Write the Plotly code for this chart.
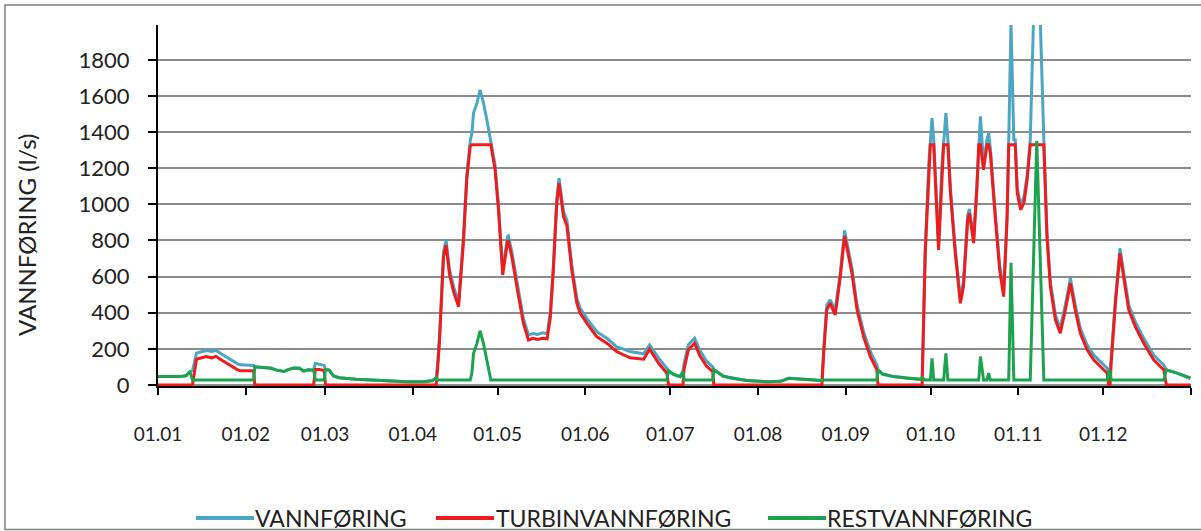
import pandas as pd
import plotly.graph_objects as go

# Day of year (0 = 1 January), values in l/s
days = [0, 4, 8, 10, 11.3, 12.2, 13.6, 15, 17, 19, 20.5, 22, 24, 26, 28, 29, 33.8, 34.2,
        37, 40, 42, 44.5, 46, 48, 50, 51.5, 53, 55, 55.6, 57, 58.7, 59.2, 60.5, 62, 64, 70,
        76, 82, 88, 94, 97, 98.3, 98.8, 99.5, 100.9, 101.8, 103, 104.5, 106.2, 107.9, 109.1,
        110.3, 110.9, 111.5, 112.7, 113.8, 115.0, 116.2, 117.6, 119.1, 120.3, 121.8, 123.5,
        123.8, 125.0, 127.4, 129.1, 130.9, 132.5, 134, 136, 137.5, 138.6, 139.7, 140.9, 141.7,
        143.3, 144.5, 146.2, 148, 149.2, 151.5, 155, 158.6, 162, 166.8, 171.6, 173.7, 176.9,
        179.8, 180.4, 182, 184.5, 185.5, 185.9, 187.4, 189.6, 191.5, 193.9, 196, 196.4, 199.8,
        203.4, 208, 215, 220, 222.8, 227, 231.6, 234.6, 235.2, 236.3, 237.5, 239.3, 241.1,
        242.6, 245.2, 247, 249.3, 251.7, 254, 254.4, 256, 259.9, 264.6, 269.3, 270.0, 271.1,
        272.3, 272.9, 273.5, 274.1, 275.8, 277.0, 277.6, 278.4, 279.1, 280.0, 281.7, 283.5,
        284.6, 286.1, 286.7, 288.2, 289.4, 290.0, 290.6, 291.7, 292.9, 293.5, 294.1, 295.9,
        297.4, 298.8, 300.0, 300.6, 301.4, 302.4, 302.9, 303.6, 304.8, 306.0, 307.1, 308.2,
        310.5, 313.0, 314.1, 315.3, 317.1, 318.8, 320.6, 322.4, 324.1, 325.9, 328.3, 330.6,
        333.6, 335.4, 335.9, 336.4, 336.8, 338.3, 339.9, 341.8, 343, 345.3, 348.3, 351.8,
        355.4, 356.3, 360.1, 364.8]

vannforing = [46, 44, 46, 52, 74, 80, 176, 182, 190, 185, 192, 175, 155, 135, 118, 111, 108, 100,
              95, 92, 82, 74, 85, 94, 92, 76, 84, 82, 120, 115, 108, 85, 82, 50, 40, 32,
              26, 20, 18, 18, 24, 40, 120, 280, 740, 800, 640, 540, 460, 812, 1163,
              1350, 1394, 1505, 1560, 1634, 1560, 1468, 1357, 1218, 997, 636, 822,
              825, 738, 516, 369, 277, 285, 280, 288, 282, 400, 664, 1033, 1145,
              960, 910, 664, 479, 424, 369, 295, 258, 212, 185, 172, 222, 148,
              92, 78, 60, 46, 74, 120, 222, 259, 190, 130, 100, 85, 48,
              36, 24, 18, 20, 37, 32, 25, 24, 200, 442, 471, 415, 627,
              855, 646, 443, 295, 184, 110, 83, 60, 46, 37, 31, 40, 756,
              1218, 1357, 1477, 1357, 775, 1218, 1357, 1505, 1357, 1089, 756, 479,
              572, 941, 975, 812, 1126, 1357, 1487, 1218, 1357, 1395, 1311, 941,
              664, 516, 941, 1357, 2006, 1357, 1357, 1089, 997, 1043, 1163, 1357,
              2680, 1357, 849, 572, 387, 313, 442, 591, 442, 313, 221, 166,
              119, 92, 74, 80, 150, 479, 757, 572, 442, 350, 258, 166,
              110, 83, 65, 37]

turbinvannforing = [0, 0, 0, 0, 0, 0, 142, 150, 157, 150, 158, 142, 122, 102, 85, 78, 78, 0,
                    0, 0, 0, 0, 0, 0, 0, 0, 0, 0, 85, 85, 80, 0, 0, 0, 0, 0,
                    0, 0, 0, 0, 0, 0, 90, 250, 711, 775, 612, 512, 434, 785, 1136,
                    1320, 1330, 1330, 1330, 1330, 1330, 1330, 1330, 1191, 970, 609, 794,
                    795, 711, 489, 342, 249, 258, 252, 258, 255, 370, 637, 1006, 1117,
                    932, 880, 637, 452, 397, 342, 268, 231, 185, 150, 142, 198, 120,
                    65, 0, 0, 0, 0, 90, 194, 231, 160, 102, 74, 0, 0,
                    0, 0, 0, 0, 0, 0, 0, 0, 170, 415, 452, 388, 600,
                    825, 619, 416, 268, 157, 83, 0, 0, 0, 0, 0, 0, 729,
                    1191, 1330, 1330, 1330, 748, 1191, 1330, 1330, 1330, 1062, 729, 452,
                    545, 914, 951, 785, 1099, 1330, 1330, 1191, 1330, 1330, 1284, 914,
                    637, 489, 914, 1330, 1330, 1330, 1330, 1062, 970, 1010, 1136, 1330,
                    1330, 1330, 822, 545, 360, 286, 415, 563, 415, 286, 194, 139,
                    92, 65, 0, 0, 120, 452, 729, 545, 415, 323, 231, 139,
                    83, 0, 0, 0]

restvannforing = [46, 44, 46, 52, 74, 27, 27, 27, 27, 27, 27, 27, 27, 27, 27, 27, 27, 100,
                  95, 92, 82, 74, 85, 94, 92, 76, 84, 82, 27, 27, 27, 85, 82, 50, 40, 32,
                  26, 20, 18, 18, 24, 40, 27, 27, 27, 27, 27, 27, 27, 27, 27,
                  27, 64, 175, 230, 300, 230, 138, 27, 27, 27, 27, 27,
                  27, 27, 27, 27, 27, 27, 27, 27, 27, 27, 27, 27, 27,
                  27, 27, 27, 27, 27, 27, 27, 27, 27, 27, 27, 27, 27,
                  27, 78, 60, 46, 74, 27, 27, 27, 27, 27, 27, 85, 48,
                  36, 24, 18, 20, 37, 32, 25, 24, 27, 27, 27, 27, 27,
                  27, 27, 27, 27, 27, 27, 83, 60, 46, 37, 31, 40, 27,
                  27, 27, 147, 27, 27, 27, 27, 175, 27, 27, 27, 27,
                  27, 27, 27, 27, 27, 27, 157, 27, 27, 65, 27, 27,
                  27, 27, 27, 27, 676, 27, 27, 27, 27, 27, 27, 27,
                  1350, 27, 27, 27, 27, 27, 27, 27, 27, 27, 27, 27,
                  27, 27, 74, 80, 27, 27, 27, 27, 27, 27, 27, 27,
                  27, 83, 65, 37]

tick_dates = ["2023-01-01", "2023-02-01", "2023-03-01", "2023-04-01", "2023-05-01", "2023-06-01",
              "2023-07-01", "2023-08-01", "2023-09-01", "2023-10-01", "2023-11-01", "2023-12-01",
              "2024-01-01"]
tick_labels = ["01.01", "01.02", "01.03", "01.04", "01.05", "01.06",
               "01.07", "01.08", "01.09", "01.10", "01.11", "01.12", ""]
y_ticks = [0, 200, 400, 600, 800, 1000, 1200, 1400, 1600, 1800]

series_names = ["VANNFØRING", "TURBINVANNFØRING", "RESTVANNFØRING"]
series_colors = ["#4BA6C4", "#EE1C1C", "#1DA34F"]

dates = pd.Timestamp("2023-01-01") + pd.to_timedelta(days, unit="D")

FONT = "Lato"
W, H = 1201, 531
ML, MR, MT, MB = 158, 10, 25, 145
PW, PH = W - ML - MR, H - MT - MB


def px_x(x):  # page pixel -> paper x
    return (x - ML) / PW


def px_y(y):  # page pixel -> paper y
    return (H - MB - y) / PH


fig = go.Figure()
legend_ids = ["legend", "legend2", "legend3"]
for name, vals, color, lg in zip(series_names, [vannforing, turbinvannforing, restvannforing],
                                 series_colors, legend_ids):
    fig.add_trace(go.Scatter(x=dates, y=vals, mode="lines", name=name, legend=lg,
                             line=dict(color=color, width=3)))

# legend text starts (page px) in the reference
legend_text_x = [256, 497, 828]
legend_line_x = [(196, 254), (436, 494), (768, 826)]
LEG_Y = 518
legend_layout = {}
for lg, tx in zip(legend_ids, legend_text_x):
    legend_layout[lg] = dict(orientation="h", xref="container", yref="container",
                             x=(tx - 41) / W, xanchor="left",
                             y=(H - LEG_Y) / H, yanchor="middle",
                             font=dict(size=23, color="#222222"), bgcolor="rgba(0,0,0,0)")

fig.update_layout(
    width=W, height=H,
    margin=dict(l=ML, r=MR, t=MT, b=MB),
    paper_bgcolor="white", plot_bgcolor="white",
    font=dict(family=FONT, size=19, color="#222222"),
    showlegend=True,
    xaxis=dict(type="date", range=["2023-01-01", "2024-01-01"],
               tickmode="array", tickvals=tick_dates, ticktext=tick_labels,
               showgrid=False, zeroline=False,
               showline=True, linecolor="black", linewidth=2,
               ticks="outside", ticklen=7, tickwidth=2, tickcolor="black",
               ticklabelstandoff=23, layer="below traces",
               tickfont=dict(size=19, color="#222222")),
    yaxis=dict(range=[-6, 1993], tickmode="array", tickvals=y_ticks,
               showgrid=True, gridcolor="#8C8C8C", gridwidth=2, zeroline=False,
               showline=True, linecolor="black", linewidth=2,
               ticks="outside", ticklen=8, tickwidth=2, tickcolor="black",
               ticklabelstandoff=14, layer="below traces",
               tickfont=dict(size=22, color="#222222")),
    **legend_layout,
)

# longer legend keys, as in the reference
for (x0, x1), color in zip(legend_line_x, series_colors):
    fig.add_shape(type="line", xref="paper", yref="paper",
                  x0=px_x(x0), x1=px_x(x1), y0=px_y(LEG_Y), y1=px_y(LEG_Y),
                  line=dict(color=color, width=4))

fig.add_annotation(text="VANNFØRING (l/s)", textangle=-90, xref="paper", yref="paper",
                   x=px_x(26), y=px_y(235), xanchor="center", yanchor="middle",
                   showarrow=False, font=dict(family=FONT, size=24, color="#222222"))

fig.add_shape(type="rect", xref="paper", yref="paper",
              x0=px_x(5), x1=px_x(1240), y0=px_y(529.5), y1=px_y(5),
              line=dict(color="#7F7F7F", width=1.5), fillcolor="rgba(0,0,0,0)", layer="below")

fig.write_html("out.html", config={"displayModeBar": False},
               post_script="document.body.style.margin='0';")
